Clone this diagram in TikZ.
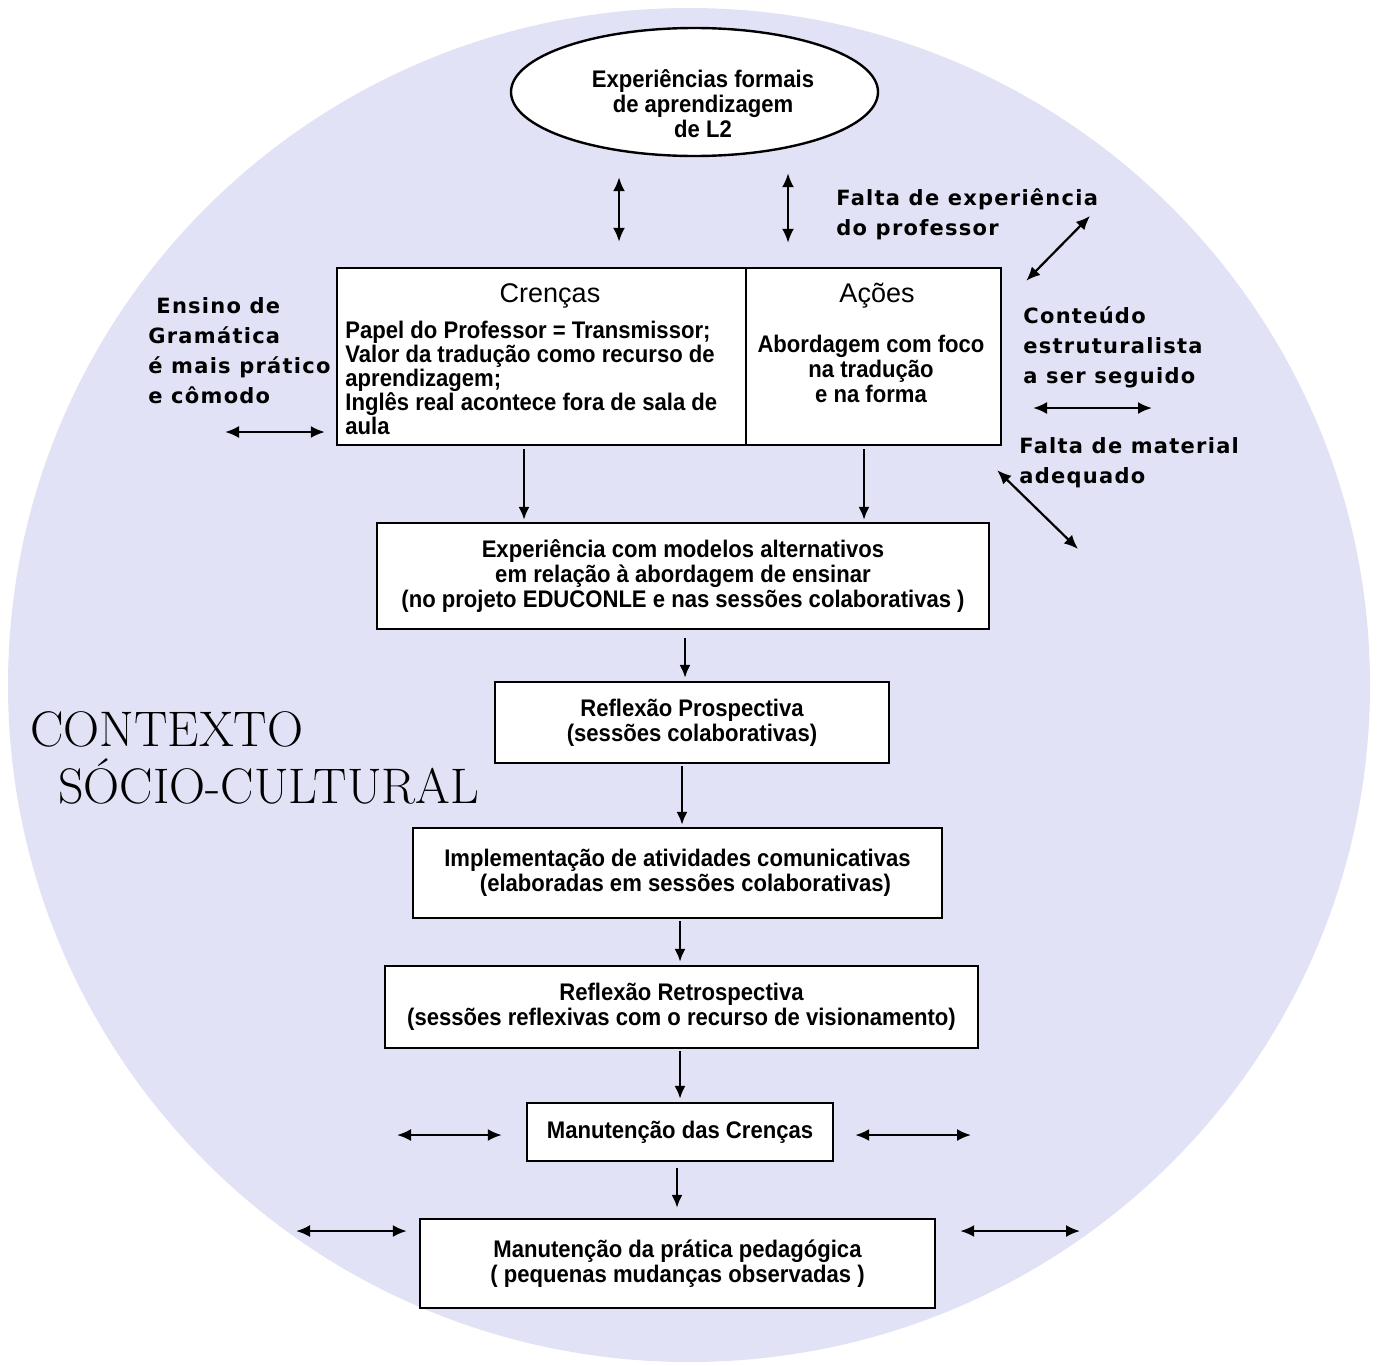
\documentclass[tikz,border=0pt]{standalone}
\usepackage{fontspec}
\newfontfamily\boxfont[FakeStretch=0.92]{Liberation Sans}
\newfontfamily\headfont{Liberation Sans}
\newfontfamily\sidefont[LetterSpace=6]{DejaVu Sans}
\usetikzlibrary{shapes.geometric,arrows.meta,calc}
\definecolor{ctxbg}{RGB}{226,226,246}
\tikzset{
  box/.style={draw,line width=1.2pt,fill=white,inner sep=0pt,align=center,
    font=\boxfont\bfseries\fontsize{12}{12.5}\selectfont},
  btxt/.style={font=\boxfont\bfseries\fontsize{12}{12.5}\selectfont,align=center,inner sep=0pt},
  ltxt/.style={font=\boxfont\bfseries\fontsize{12}{12}\selectfont,align=left,inner sep=0pt,anchor=west},
  head/.style={font=\headfont\fontsize{13.5}{15}\selectfont,inner sep=0pt},
  side/.style={font=\sidefont\bfseries\fontsize{10.5}{15}\selectfont,align=left,inner sep=0pt,anchor=west},
  ctx/.style={font=\fontsize{25}{28}\selectfont,inner sep=0pt,anchor=west},
  arr/.style={line width=1.1pt,-{Latex[length=6.5pt,width=5.5pt]}},
  darr/.style={line width=1.1pt,{Latex[length=7pt,width=6pt]}-{Latex[length=7pt,width=6pt]}},
}
\begin{document}
\begin{tikzpicture}[x=0.5pt,y=-0.5pt]
\useasboundingbox (0,0) rectangle (1380,1365);
\fill[ctxbg] (689,685) ellipse [x radius=340.5pt, y radius=338.5pt];

% context label
\node[ctx] (ctx1) at (30,729) {CONTEXTO};
\node[ctx] (ctx2) at (58,782) {SÓCIO-CULTURAL};

% top ellipse
\node[draw,ellipse,line width=1.2pt,fill=white,minimum width=183.5pt,minimum height=64pt,inner sep=0pt] (ell) at (694.5,92) {};
\node[btxt] (ellt) at (703,104) {Experiências formais\\de aprendizagem\\de L2};

% main box
\node[box,minimum width=204.5pt,minimum height=88.5pt] (cren) at (541.5,356.5) {};
\node[box,minimum width=127.5pt,minimum height=88.5pt] (acoes) at (873.5,356.5) {};
\node[head] (crenh) at (550,296) {Crenças};
\node[head] (acoesh) at (877,296) {Ações};
\node[ltxt] (crent) at (345,378) {Papel do Professor = Transmissor;\\Valor da tradução como recurso de\\aprendizagem;\\Inglês real acontece fora de sala de\\aula};
\node[btxt] (acoest) at (871,369) {Abordagem com foco\\na tradução\\e na forma};

% flow boxes
\node[box,minimum width=306pt,minimum height=53pt] (b2) at (683,576)
  {Experiência com modelos alternativos\\em relação à abordagem de ensinar\\(no projeto EDUCONLE e nas sessões colaborativas )};
\node[box,minimum width=197pt,minimum height=40.5pt] (b3) at (692,722.5)
  {Reflexão Prospectiva\\(sessões colaborativas)};
\node[box,minimum width=264.5pt,minimum height=45pt] (b4) at (677.5,873)
  {Implementação de atividades comunicativas\\\hspace*{8pt}(elaboradas em sessões colaborativas)};
\node[box,minimum width=296.5pt,minimum height=41pt] (b5) at (681.5,1007)
  {Reflexão Retrospectiva\\(sessões reflexivas com o recurso de visionamento)};
\node[box,minimum width=153pt,minimum height=29pt] (b6) at (680,1132)
  {Manutenção das Crenças};
\node[box,minimum width=257.5pt,minimum height=44.5pt] (b7) at (677.5,1263.5)
  {Manutenção da prática pedagógica\\( pequenas mudanças observadas )};

% side labels
\node[side] (falexp) at (836,214) {Falta de experiência\\do professor};
\node[side] (ensino) at (148,351) {\hspace*{4pt}Ensino de\\Gramática\\é mais prático\\e cômodo};
\node[side] (conteudo) at (1023,347) {Conteúdo\\estruturalista\\a ser seguido};
\node[side] (faltamat) at (1019,463) {Falta de material\\adequado};

% free ends
\coordinate (e1) at (225,432);
\coordinate (e2) at (1033,408);
\coordinate (e2b) at (1152,408);
\coordinate (e3) at (1090,216);
\coordinate (e4) at (1078,549);
\coordinate (e6l) at (397,1135);
\coordinate (e6r) at (971,1135);
\coordinate (e7l) at (296,1231);
\coordinate (e7r) at (1080,1231);

% connectors
\draw[darr] ($(ell.south)+(-75.5,20)$) -- ($(cren.north)+(77.5,-25)$);
\draw[darr] ($(ell.south)+(93.5,16)$) -- ($(acoes.north)+(-85.5,-24)$);
\draw[darr] (e3) -- ($(acoes.north east)+(24,14)$);
\draw[darr] (e1) -- ($(cren.west)+(-11,75.5)$);
\draw[darr] (e2) -- (e2b);
\draw[darr] ($(acoes.south east)+(-5,24)$) -- (e4);

\draw[arr] ($(cren.south)+(-17.5,3)$) -- ($(b2.north)+(-159,-2)$);
\draw[arr] ($(acoes.south)+(-9.5,3)$) -- ($(b2.north)+(181,-2)$);
\draw[arr] ($(b2.south)+(2,8)$) -- ($(b3.north)+(-7,-3)$);
\draw[arr] ($(b3.south)+(-10,2)$) -- ($(b4.north)+(4.5,-2)$);
\draw[arr] ($(b4.south)+(2.5,2)$) -- ($(b5.north)+(-1.5,-3)$);
\draw[arr] ($(b5.south)+(-1.5,2)$) -- ($(b6.north)+(0,-3)$);
\draw[arr] ($(b6.south)+(-3,6)$) -- ($(b7.north)+(-0.5,-10)$);

\draw[darr] (e6l) -- ($(b6.west)+(-24,3)$);
\draw[darr] ($(b6.east)+(21,3)$) -- (e6r);
\draw[darr] (e7l) -- ($(b7.west)+(-12,-32.5)$);
\draw[darr] ($(b7.east)+(24,-32.5)$) -- (e7r);
\end{tikzpicture}
\end{document}
